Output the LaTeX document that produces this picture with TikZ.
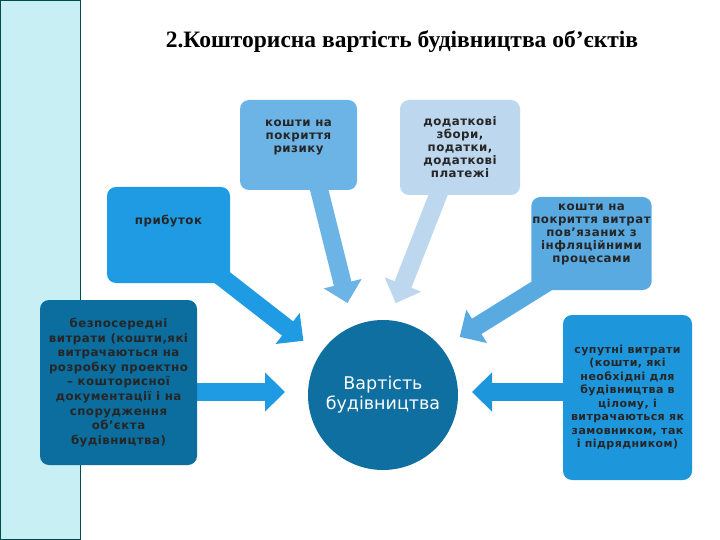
\documentclass[tikz,border=0pt]{standalone}
\usepackage{fontspec}
\setmainfont{Liberation Serif}
\newfontfamily\boxfont[LetterSpace=4]{DejaVu Sans}
\newfontfamily\circfont{DejaVu Sans}
\usetikzlibrary{arrows.meta}
\definecolor{strip}{HTML}{C8F0F4}
\definecolor{cA}{HTML}{6CB4E6}
\definecolor{cB}{HTML}{BDD7EE}
\definecolor{cC}{HTML}{1E9BE2}
\definecolor{cD}{HTML}{5AAAE2}
\definecolor{cE}{HTML}{0B6E9E}
\definecolor{cF}{HTML}{1E96DC}
\definecolor{cG}{HTML}{0E6FA0}
\tikzset{
 bx/.style={rounded corners=9pt, inner sep=1pt, align=center, font=\boxfont\bfseries\fontsize{11.8}{13}\selectfont, text=black!85},
 arr/.style={line width=18pt, -{Triangle[width=38pt,length=20pt]}, shorten >=2pt}
}
\begin{document}
\begin{tikzpicture}[x=1pt,y=-1pt]
\useasboundingbox (0,0) rectangle (720,540);
\fill[white] (0,0) rectangle (720,540);
\draw[fill=strip, draw=teal!60!black] (0.5,0.5) rectangle (80,539.5);
\node (title) at (402,42) {\fontsize{23.5}{26}\selectfont\bfseries 2.Кошторисна вартість будівництва об’єктів};
% arrows
\coordinate (ta) at (348,305);
\coordinate (tb) at (395,305);
\coordinate (tp) at (305,342);
\coordinate (td) at (458,338);
\coordinate (te) at (287,392);
\coordinate (tf) at (470,392);
\draw[arr, cA] (318,185) -- (ta);
\draw[arr, cB] (440,190) -- (tb);
\draw[arr, cC] (215,272) -- (tp);
\draw[arr, cD] (548,282) -- (td);
\draw[arr, cC] (196,392) -- (te);
\draw[arr, cF] (563,392) -- (tf);
\node[circle, fill=cG, minimum size=150pt, text=white, align=center, font=\circfont\fontsize{17.5}{20}\selectfont] (c) at (383,395) {Вартість\\будівництва};
% boxes
\node[bx, fill=cA, minimum width=117pt, minimum height=90pt] (a) at (298.5,145) {кошти на\\покриття\\ризику\\[4pt]};
\node[bx, fill=cB, minimum width=120pt, minimum height=95pt] (b) at (460,147.5) {додаткові\\збори,\\податки,\\додаткові\\платежі};
\node[bx, fill=cC, minimum width=123pt, minimum height=96pt] (p) at (168.5,235) {прибуток\\[18pt]};
\node[bx, fill=cD, minimum width=117pt, minimum height=93pt] (d) at (591.5,243.5) {кошти на\\покриття витрат\\пов’язаних з\\інфляційними\\процесами\\[8pt]};
\node[bx, fill=cE, minimum width=157pt, minimum height=165pt, font=\boxfont\bfseries\fontsize{11.8}{14.6}\selectfont] (e) at (118.5,382.5) {безпосередні\\витрати (кошти,які\\витрачаються на\\розробку проектно\\– кошторисної\\документації і на\\спорудження\\об’єкта\\будівництва)};
\node[bx, fill=cF, minimum width=129pt, minimum height=165pt, font=\boxfont\bfseries\fontsize{11}{13.5}\selectfont] (f) at (627.5,397.5) {супутні витрати\\(кошти, які\\необхідні для\\будівництва в\\цілому,  і\\витрачаються як\\замовником,  так\\і підрядником)};
\end{tikzpicture}
\end{document}
